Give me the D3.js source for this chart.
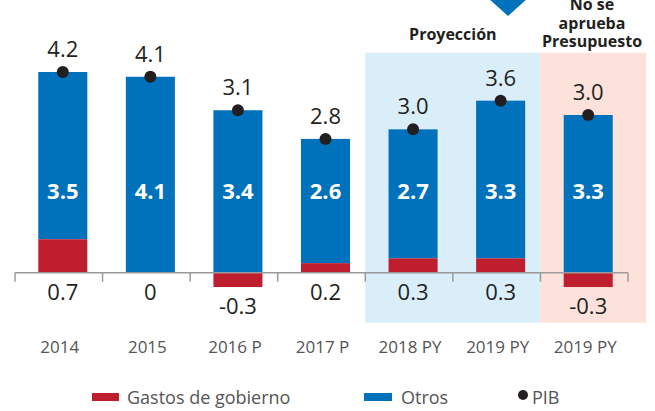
<!DOCTYPE html>
<html>
<head>
<meta charset="utf-8">
<script src="https://cdn.jsdelivr.net/npm/d3@7"></script>
<style>
  body { margin: 0; background: #fff; }
  svg { display: block; font-family: "Open Sans", "Noto Sans", sans-serif; }
</style>
</head>
<body>
<div id="chart"></div>
<script>
    var categories = ["2014", "2015", "2016 P", "2017 P", "2018 PY", "2019 PY", "2019 PY"];
    var gastos = [0.7, 0, -0.3, 0.2, 0.3, 0.3, -0.3];
    var otros = [3.5, 4.1, 3.4, 2.6, 2.7, 3.3, 3.3];
    var pib = [4.2, 4.1, 3.1, 2.8, 3.0, 3.6, 3.0];
    var legendItems = ["Gastos de gobierno", "Otros", "PIB"];

    var blue = "#0071bb",
        red = "#be1e2d",
        dark = "#231f20",
        grey = "#555";

    var width = 655,
        height = 411;

    var idx = d3.range(categories.length);

    var x = d3.scaleBand()
        .domain(idx)
        .range([15, 628])
        .paddingInner(0.44)
        .paddingOuter(0.22);

    var y = d3.scaleLinear()
        .domain([0, 4.2])
        .range([272.7, 72]);

    var shift = 4; // bars sit a bit right of band centre
    function cx(i) { return x(i) + x.bandwidth() / 2 + shift; }
    function edge(i) { return x.range()[0] + i * x.step(); }
    function fmt(v) { return v === 0 ? "0" : v.toFixed(1); }

    var svg = d3.select("#chart").append("svg")
        .attr("width", width)
        .attr("height", height);

    // shaded zones
    svg.append("rect")
        .attr("x", edge(4))
        .attr("y", 52.7)
        .attr("width", edge(6) - edge(4))
        .attr("height", 270)
        .attr("fill", "#d9eef9");

    svg.append("rect")
        .attr("x", edge(6))
        .attr("y", 52.7)
        .attr("width", 646 - edge(6))
        .attr("height", 270)
        .attr("fill", "#fde2dc");

    // marker triangle
    svg.append("path")
        .attr("d", "M488,-2L528,-2L508,16Z")
        .attr("fill", blue);

    svg.append("text")
        .attr("x", (edge(4) + edge(6)) / 2)
        .attr("y", 40)
        .attr("text-anchor", "middle")
        .attr("font-weight", "bold")
        .style("font-size", "16px")
        .attr("fill", dark)
        .text("Proyección");

    svg.append("text")
        .attr("text-anchor", "middle")
        .attr("font-weight", "bold")
        .style("font-size", "16px")
        .attr("fill", dark)
        .selectAll("tspan")
        .data(["No se", "aprueba", "Presupuesto"])
        .enter().append("tspan")
        .attr("x", 592)
        .attr("y", function(d, i) { return 10 + i * 18.5; })
        .text(function(d) { return d; });

    // bars
    var barW = x.bandwidth();
    var bar = svg.selectAll(".bar")
        .data(idx)
      .enter().append("g")
        .attr("class", "bar");

    bar.append("rect")
        .attr("x", function(i) { return cx(i) - barW / 2; })
        .attr("y", function(i) { return y(Math.max(gastos[i], 0) + otros[i]); })
        .attr("width", barW)
        .attr("height", function(i) { return y(Math.max(gastos[i], 0)) - y(Math.max(gastos[i], 0) + otros[i]); })
        .attr("fill", blue);

    bar.append("rect")
        .attr("x", function(i) { return cx(i) - barW / 2; })
        .attr("y", function(i) { return y(Math.max(gastos[i], 0)); })
        .attr("width", barW)
        .attr("height", function(i) { return Math.abs(y(gastos[i]) - y(0)); })
        .attr("fill", red);

    // axis line with ticks at band edges
    svg.append("line")
        .attr("x1", edge(0))
        .attr("x2", edge(categories.length))
        .attr("y1", y(0))
        .attr("y2", y(0))
        .attr("stroke", "#9a9a9a")
        .attr("stroke-width", 1.5);

    svg.selectAll(".tick")
        .data(d3.range(categories.length + 1))
      .enter().append("line")
        .attr("class", "tick")
        .attr("x1", function(i) { return edge(i); })
        .attr("x2", function(i) { return edge(i); })
        .attr("y1", y(0))
        .attr("y2", y(0) + 9)
        .attr("stroke", "#9a9a9a")
        .attr("stroke-width", 1.5);

    // inner labels (Otros)
    bar.append("text")
        .attr("x", function(i) { return cx(i); })
        .attr("y", 198.5)
        .attr("text-anchor", "middle")
        .attr("font-weight", "bold")
        .style("font-size", "22px")
        .attr("fill", "#fff")
        .text(function(i) { return fmt(otros[i]); });

    // gastos labels under the axis
    bar.append("text")
        .attr("x", function(i) { return cx(i); })
        .attr("y", function(i) { return Math.max(y(0), y(gastos[i])) + 27; })
        .attr("text-anchor", "middle")
        .style("font-size", "22px")
        .attr("fill", dark)
        .text(function(i) { return fmt(gastos[i]); });

    // PIB dots on top of the stack
    bar.append("circle")
        .attr("cx", function(i) { return cx(i); })
        .attr("cy", function(i) { return y(Math.max(gastos[i], 0) + otros[i]); })
        .attr("r", 6)
        .attr("fill", dark);

    bar.append("text")
        .attr("x", function(i) { return cx(i); })
        .attr("y", function(i) { return y(Math.max(gastos[i], 0) + otros[i]) - 15; })
        .attr("text-anchor", "middle")
        .style("font-size", "22px")
        .attr("fill", dark)
        .text(function(i) { return pib[i].toFixed(1); });

    // category labels
    bar.append("text")
        .attr("x", function(i) { return cx(i) - 3; })
        .attr("y", 353)
        .attr("text-anchor", "middle")
        .style("font-size", "17px")
        .attr("fill", grey)
        .text(function(i) { return categories[i]; });

    // legend
    var legend = svg.append("g").attr("transform", "translate(0,397)");

    legend.append("rect")
        .attr("x", 92).attr("y", -4).attr("width", 27).attr("height", 8)
        .attr("fill", red);
    legend.append("text")
        .attr("x", 127).attr("y", 6.5)
        .style("font-size", "18px").attr("fill", grey)
        .text(legendItems[0]);

    legend.append("rect")
        .attr("x", 364).attr("y", -4).attr("width", 28).attr("height", 8)
        .attr("fill", blue);
    legend.append("text")
        .attr("x", 401).attr("y", 6.5)
        .style("font-size", "18px").attr("fill", grey)
        .text(legendItems[1]);

    legend.append("circle")
        .attr("cx", 523).attr("cy", -2).attr("r", 5)
        .attr("fill", dark);
    legend.append("text")
        .attr("x", 532).attr("y", 6.5)
        .style("font-size", "18px").attr("fill", grey)
        .text(legendItems[2]);
</script>
</body>
</html>
